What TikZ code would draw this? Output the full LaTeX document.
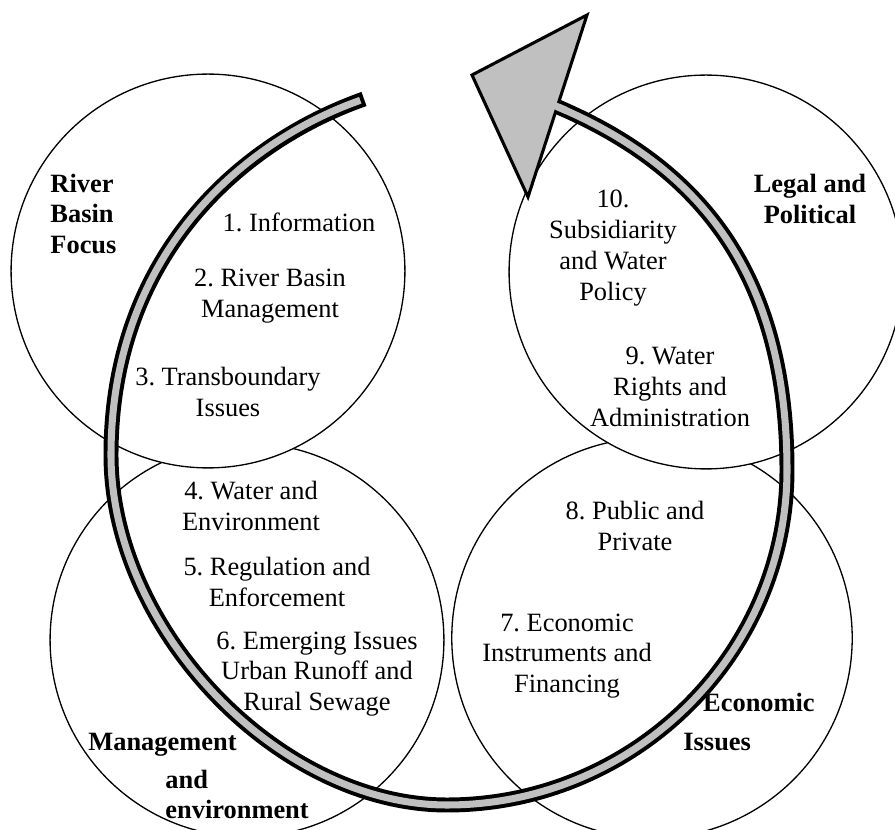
\documentclass[tikz,border=0pt]{standalone}
\usepackage{fontspec}
\setmainfont{Liberation Serif}
\usetikzlibrary{calc,positioning}
\definecolor{bandgrey}{RGB}{192,192,192}
\frenchspacing

\begin{document}
\begin{tikzpicture}[x=0.4545pt,y=-0.4545pt,
  topic/.style={circle,draw,fill=white,line width=0.6pt,inner sep=0pt,minimum size=179pt},
  item/.style={align=center,inner sep=0pt,font=\fontsize{12}{14}\selectfont},
  heading/.style={item,font=\fontsize{12}{14}\selectfont\bfseries},
  bandline/.style={line width=6.8pt,line cap=butt},
  bandfill/.style={line width=3.2pt,draw=bandgrey,line cap=butt}]
\clip (0,0) rectangle (895,830);
\coordinate (BASIN) at (208,271);
\coordinate (LEGAL) at (706,272);
\coordinate (MGMT) at (247,640);
\coordinate (ECON) at (652,638);
%the circles, lower ones first
\node[topic] (mgmt) at (MGMT) {};
\node[topic,minimum size=182pt] (econ) at (ECON) {};
\node[topic] (basin) at (BASIN) {};
\node[topic] (legal) at (LEGAL) {};
%headings
\node[heading,align=left,anchor=west] (basinhead) at ($(BASIN)+(-158,-57)$) {River\\Basin\\Focus};
\node[heading] (legalhead) at ($(LEGAL)+(104,-73)$) {Legal and\\Political};
\node[heading,align=left,anchor=west] (mgmthead) at ($(MGMT)+(-159,136)$) {Management\\[3pt]\hspace*{35pt}and\\[-0.5pt]\hspace*{35pt}environment};
\node[heading,align=left,anchor=west] (econhead) at ($(ECON)+(31,84)$) {\hspace*{9pt}Economic\\[3.7pt]Issues};
%items
\node[item] (info) at ($(BASIN)+(91,-49)$) {1. Information};
\node[item] (rbm) at ($(BASIN)+(62,25)$) {2. River Basin\\Management};
\node[item] (trans) at ($(BASIN)+(20,121)$) {3. Transboundary\\Issues};
\node[item] (wenv) at ($(MGMT)+(4,-134)$) {4. Water and\\Environment};
\node[item] (regul) at ($(MGMT)+(30,-58)$) {5. Regulation and\\Enforcement};
\node[item] (emerg) at ($(MGMT)+(70,34)$) {6. Emerging Issues\\Urban Runoff and\\Rural Sewage};
\node[item] (instr) at ($(ECON)+(-85,18)$) {7. Economic\\Instruments and\\Financing};
\node[item] (pubpriv) at ($(ECON)+(-17,-112)$) {8. Public and\\Private};
\node[item] (rights) at ($(LEGAL)+(-36,115)$) {9. Water\\Rights and\\Administration};
\node[item] (subs) at ($(LEGAL)+(-93,-24)$) {10.\\Subsidiarity\\and Water\\Policy};
%the spiral arrow
\coordinate (SPSTART) at (364,99);
\coordinate (SPLEFT) at (111,455);
\coordinate (SPBOTTOM) at (447,805);
\coordinate (SPRIGHT) at (787,470);
\coordinate (SPEND) at (558,107);
\draw[bandline] (SPSTART) .. controls (242,142) and (111,255) .. (SPLEFT)
  .. controls (111,630) and (279,805) .. (SPBOTTOM)
  .. controls (634,805) and (787,654) .. (SPRIGHT)
  .. controls (787,270) and (696,166) .. (SPEND);
\coordinate (TIPA) at (472,75);
\coordinate (TIPB) at (587,15);
\coordinate (TIPC) at (528,197);
\draw[line width=1.4pt,fill=bandgrey,line join=miter] (TIPA) -- (TIPB) -- (TIPC) -- cycle;
\draw[bandfill,shorten <=1.8pt] (SPSTART) .. controls (242,142) and (111,255) .. (SPLEFT)
  .. controls (111,630) and (279,805) .. (SPBOTTOM)
  .. controls (634,805) and (787,654) .. (SPRIGHT)
  .. controls (787,270) and (696,166) .. (SPEND);
\draw[bandfill] (566,110.4) -- (548,102.7);
\end{tikzpicture}
\end{document}
